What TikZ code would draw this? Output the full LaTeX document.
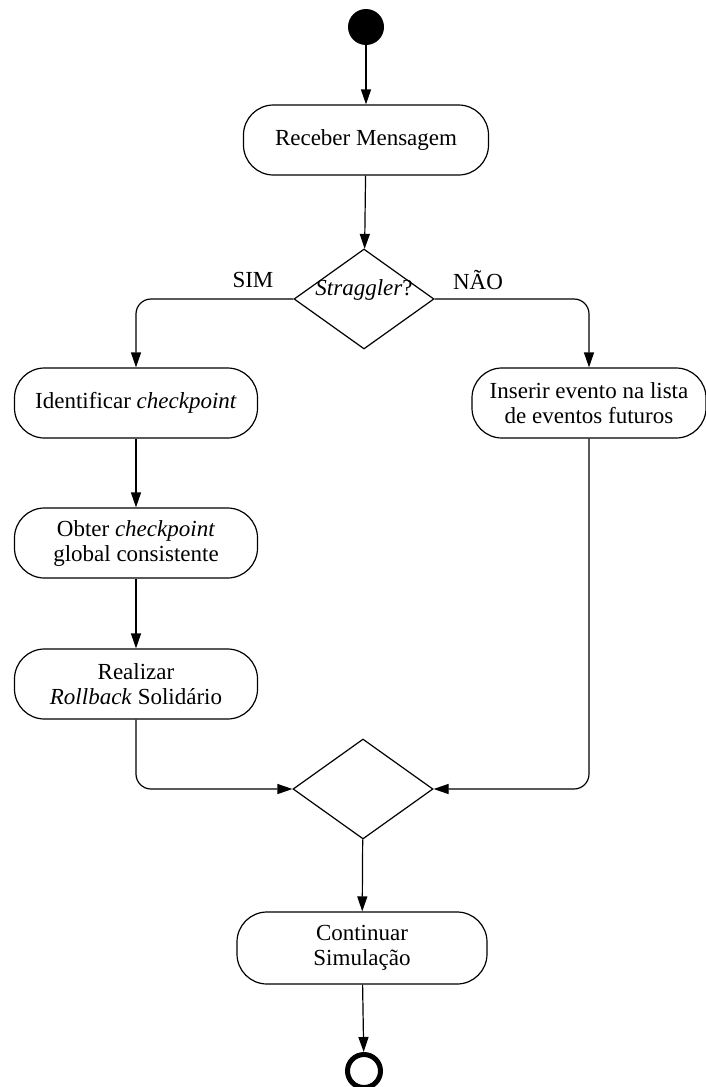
\documentclass[tikz,border=0pt]{standalone}
\usepackage{fontspec}
\setmainfont{Liberation Serif}
\usetikzlibrary{arrows.meta,shapes.geometric}
\begin{document}
\begin{tikzpicture}[x=1pt,y=-1pt,
  every node/.style={font=\fontsize{23}{25}\selectfont},
  activity/.style={draw,line width=1.2pt,rectangle,rounded corners=30pt,
    minimum width=245pt,minimum height=70pt,inner sep=0pt,align=center},
  choice/.style={draw,line width=1.2pt,diamond,aspect=1.4,
    minimum width=140pt,minimum height=100pt,inner sep=0pt},
  flow/.style={line width=1.2pt,-{Triangle[length=15pt,width=10pt]}},
  elbow/.style={flow,rounded corners=15pt}]
\useasboundingbox (0,0) rectangle (706,1087);

% initial and final states
\node[circle,fill=black,minimum size=36pt,inner sep=0pt] (start) at (366,27) {};
\node[circle,draw,line width=5pt,minimum size=33pt,inner sep=0pt] (stop) at (364,1071) {};

% activities
\node[activity] (recv) at (366,140) {Receber Mensagem};
\node[choice] (strag) at (364,299) {\raisebox{4pt}[0pt][0pt]{\textit{Straggler}?}};
\node[activity,minimum width=243pt] (ident) at (136,403) {Identificar \textit{checkpoint}};
\node[activity,minimum width=234pt] (insert) at (589,403) {Inserir evento na lista\\de eventos futuros};
\node[activity,minimum width=243pt] (global) at (136,543) {Obter \textit{checkpoint}\\global consistente};
\node[activity,minimum width=243pt] (roll) at (136,684) {Realizar\\\textit{Rollback} Solidário};
\node[choice] (merge) at (363,789) {};
\node[activity,minimum width=250pt,minimum height=72pt] (cont) at (362,948) {Continuar\\Simulação};

% branch labels
\node (yes) at (253,280) {SIM};
\node (no) at (478,280) {NÃO};

% transitions
\draw[flow] (start) -- (recv);
\draw[flow] (recv) -- (strag);
\draw[elbow] (strag.west) -| (ident.north);
\draw[elbow] (strag.east) -| (insert.north);
\draw[flow] (ident) -- (global);
\draw[flow] (global) -- (roll);
\draw[elbow] (roll.south) |- (merge.west);
\draw[elbow] (insert.south) |- (merge.east);
\draw[flow] (merge) -- (cont);
\draw[flow] (cont) -- (stop);
\end{tikzpicture}
\end{document}
